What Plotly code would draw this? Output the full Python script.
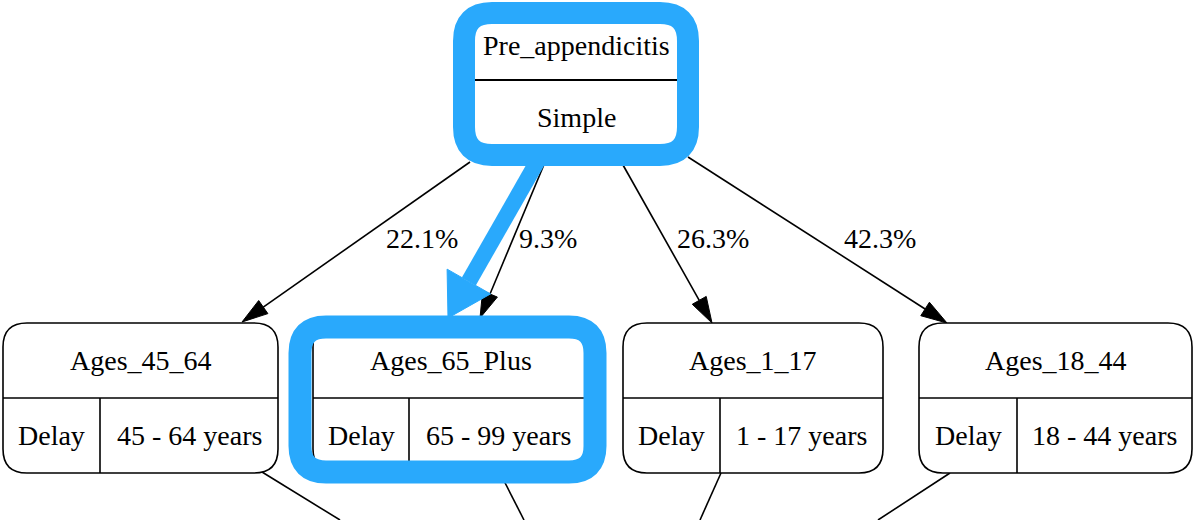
import math
import plotly.graph_objects as go

# ---------------- data ----------------
root_name = "Pre_appendicitis"
root_value = "Simple"
child_names = ["Ages_45_64", "Ages_65_Plus", "Ages_1_17", "Ages_18_44"]
child_attrs = ["Delay", "Delay", "Delay", "Delay"]
child_values = ["45 - 64 years", "65 - 99 years", "1 - 17 years", "18 - 44 years"]
edge_pcts = [22.1, 9.3, 26.3, 42.3]
highlighted_child = "Ages_65_Plus"

# ---------------- layout (pixel space of the page) ----------------
W, H = 1194, 520
FONT = "Liberation Serif, Times New Roman, serif"
BLUE = "#29a9fc"

root_box = dict(x0=468, x1=684, y0=17, y1=151, ydiv=80)
child_boxes = [
    dict(x0=3, x1=278, xdiv=100),
    dict(x0=313, x1=588, xdiv=409),
    dict(x0=623, x1=883, xdiv=720),
    dict(x0=919, x1=1192, xdiv=1017),
]
CB_Y0, CB_Y1, CB_YDIV = 323, 473, 398
edge_geom = [((470, 162), (242, 322)), ((548, 155), (480, 318)),
             ((623, 165), (712, 323)), ((688, 157), (947, 323))]
label_pos = [(422, 238), (548, 238), (713, 238), (880, 238)]
out_lines = [((262, 472), (340, 520)), ((500, 473), (524, 520)),
             ((721, 473), (700, 520)), ((950, 473), (878, 520))]


def rrect(x0, y0, x1, y1, r):
    return (f"M {x0+r},{y0} L {x1-r},{y0} Q {x1},{y0} {x1},{y0+r} "
            f"L {x1},{y1-r} Q {x1},{y1} {x1-r},{y1} L {x0+r},{y1} "
            f"Q {x0},{y1} {x0},{y1-r} L {x0},{y0+r} Q {x0},{y0} {x0+r},{y0} Z")


def arrow_parts(start, tip, L, hw):
    sx, sy = start
    tx, ty = tip
    dx, dy = tx - sx, ty - sy
    n = math.hypot(dx, dy)
    ux, uy = dx / n, dy / n
    bx, by = tx - ux * L, ty - uy * L
    px, py = -uy, ux
    tri = (f"M {tx},{ty} L {bx+px*hw},{by+py*hw} L {bx-px*hw},{by-py*hw} Z")
    return (bx, by), tri


shapes = []
annotations = []

# edges from root to children
for (s, t), pct, (lx, ly) in zip(edge_geom, edge_pcts, label_pos):
    base, tri = arrow_parts(s, t, 26, 8)
    shapes.append(dict(type="line", x0=s[0], y0=s[1], x1=base[0], y1=base[1],
                       line=dict(color="black", width=1.6), layer="above"))
    shapes.append(dict(type="path", path=tri, fillcolor="black",
                       line=dict(color="black", width=1), layer="above"))
    annotations.append(dict(x=lx, y=ly, text=f"{pct:.1f}%", showarrow=False,
                            font=dict(family=FONT, size=28, color="black"),
                            xanchor="center", yanchor="middle"))

# outgoing edges below children (continuing off the page)
for (a, b) in out_lines:
    shapes.append(dict(type="line", x0=a[0], y0=a[1], x1=b[0], y1=b[1],
                       line=dict(color="black", width=1.6), layer="above"))

# root node
shapes.append(dict(type="path", path=rrect(root_box["x0"], root_box["y0"],
                                           root_box["x1"], root_box["y1"], 22),
                   fillcolor="white", line=dict(color="black", width=1.6), layer="above"))
shapes.append(dict(type="line", x0=root_box["x0"], x1=root_box["x1"],
                   y0=root_box["ydiv"], y1=root_box["ydiv"],
                   line=dict(color="black", width=2), layer="above"))
cx = (root_box["x0"] + root_box["x1"]) / 2
annotations.append(dict(x=cx, y=45, text=root_name, showarrow=False,
                        font=dict(family=FONT, size=28, color="black")))
annotations.append(dict(x=cx, y=117, text=root_value, showarrow=False,
                        font=dict(family=FONT, size=28, color="black")))

# child nodes
for b, name, attr, val in zip(child_boxes, child_names, child_attrs, child_values):
    shapes.append(dict(type="path", path=rrect(b["x0"], CB_Y0, b["x1"], CB_Y1, 24),
                       fillcolor="white", line=dict(color="black", width=1.6),
                       layer="above"))
    shapes.append(dict(type="line", x0=b["x0"], x1=b["x1"], y0=CB_YDIV, y1=CB_YDIV,
                       line=dict(color="black", width=1.6), layer="above"))
    shapes.append(dict(type="line", x0=b["xdiv"], x1=b["xdiv"], y0=CB_YDIV, y1=CB_Y1,
                       line=dict(color="black", width=1.6), layer="above"))
    annotations.append(dict(x=(b["x0"] + b["x1"]) / 2, y=360, text=name, showarrow=False,
                            font=dict(family=FONT, size=28, color="black")))
    annotations.append(dict(x=(b["x0"] + b["xdiv"]) / 2, y=435, text=attr, showarrow=False,
                            font=dict(family=FONT, size=28, color="black")))
    annotations.append(dict(x=(b["xdiv"] + b["x1"]) / 2, y=435, text=val, showarrow=False,
                            font=dict(family=FONT, size=28, color="black")))

# blue highlight arrow
bstart, btip = (541, 155), (448, 318)
bbase, btri = arrow_parts(bstart, btip, 42, 25)
shapes.append(dict(type="line", x0=bstart[0], y0=bstart[1], x1=bbase[0], y1=bbase[1],
                   line=dict(color=BLUE, width=16), layer="above"))
shapes.append(dict(type="path", path=btri, fillcolor=BLUE,
                   line=dict(color=BLUE, width=1), layer="above"))

# blue highlight boxes
shapes.append(dict(type="path", path=rrect(464, 13, 688, 155, 28), fillcolor="rgba(0,0,0,0)",
                   line=dict(color=BLUE, width=22), layer="above"))
hi = child_names.index(highlighted_child)
shapes.append(dict(type="path", path=rrect(300, 327, 595, 472, 26), fillcolor="rgba(0,0,0,0)",
                   line=dict(color=BLUE, width=23), layer="above"))

fig = go.Figure()
fig.update_layout(
    width=W, height=H,
    margin=dict(l=0, r=0, t=0, b=0),
    paper_bgcolor="white", plot_bgcolor="white",
    xaxis=dict(range=[0, W], visible=False, fixedrange=True),
    yaxis=dict(range=[H, 0], visible=False, fixedrange=True),
    shapes=shapes, annotations=annotations, showlegend=False,
)
fig.write_html("out.html", config={"displayModeBar": False},
               post_script="document.body.style.margin='0';document.body.style.overflow='hidden';")
